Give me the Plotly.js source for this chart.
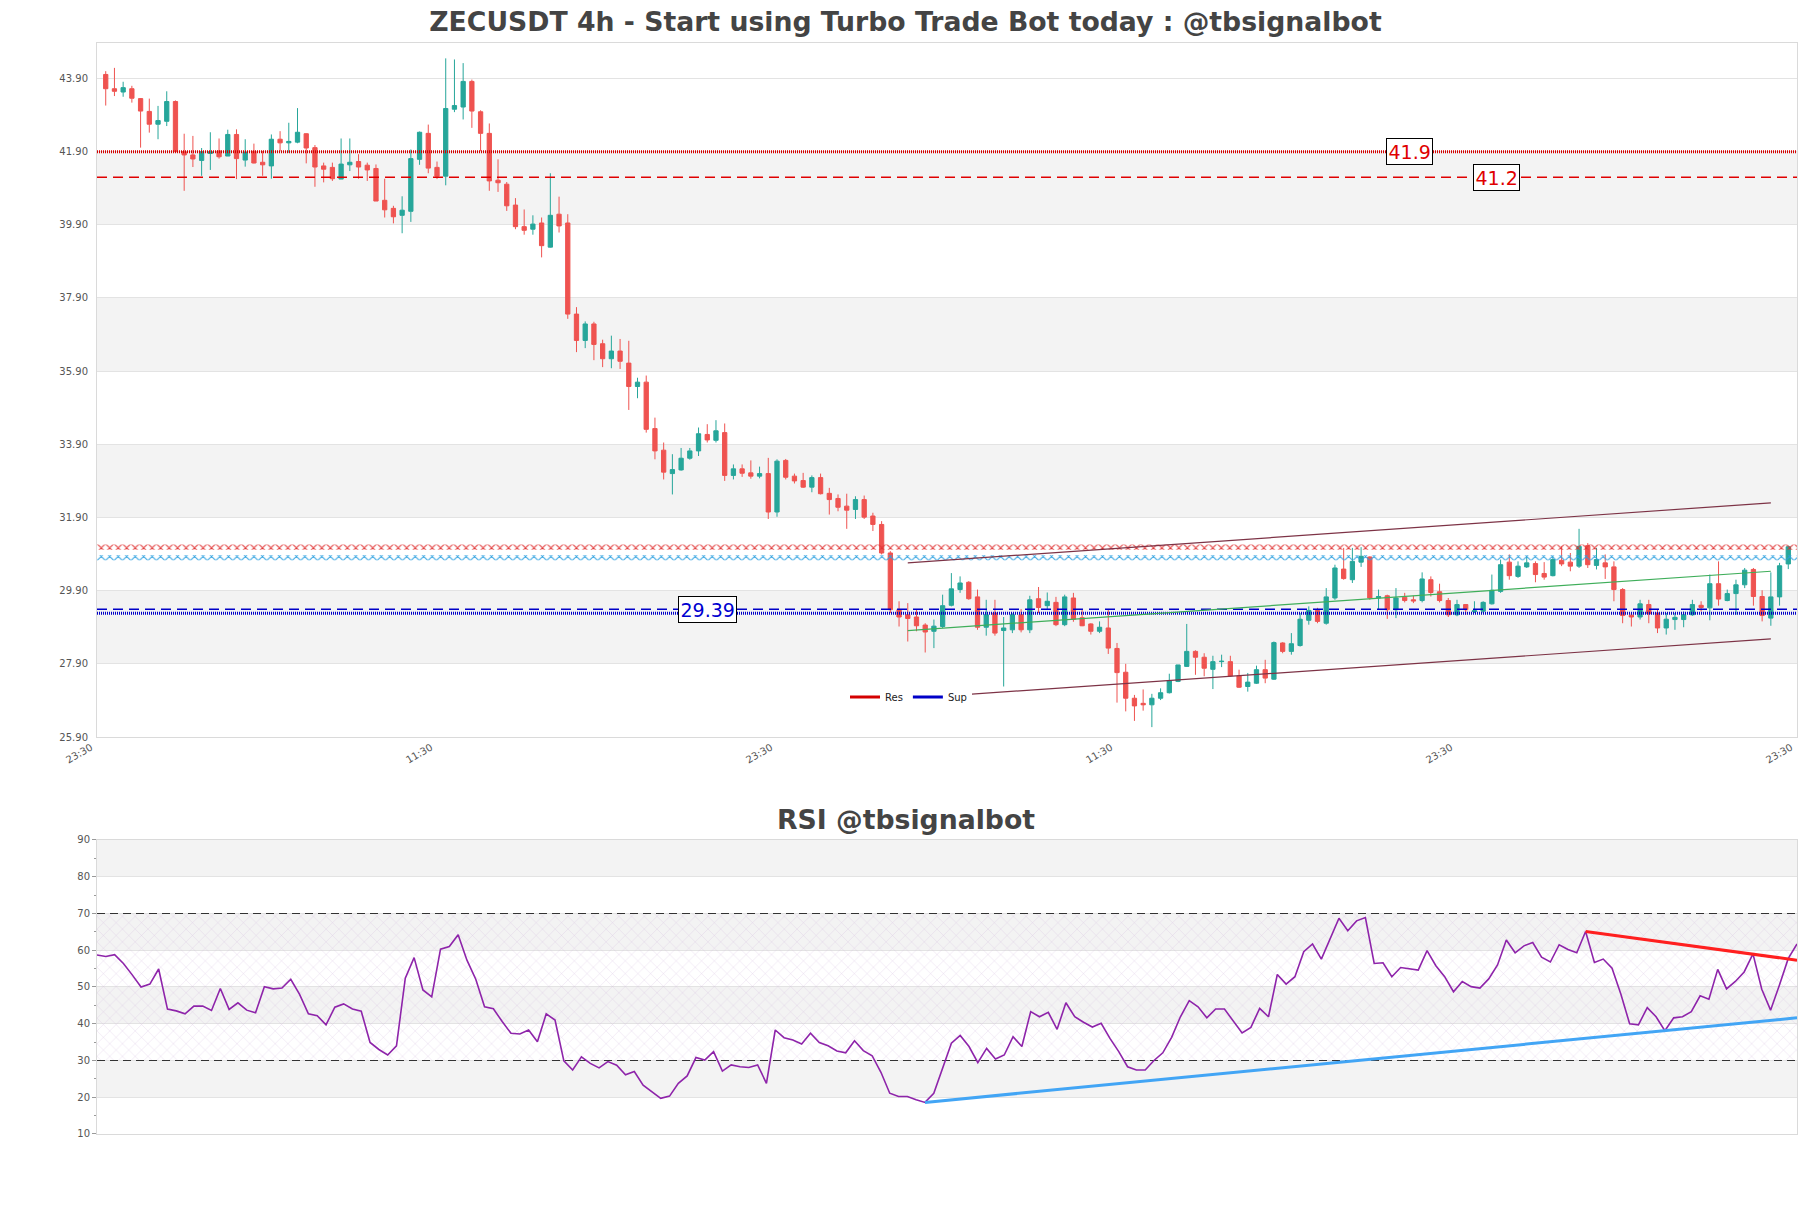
<!DOCTYPE html>
<html>
<head>
<meta charset="utf-8">
<script src="https://cdn.plot.ly/plotly-3.0.1.min.js"></script>
<style>html,body{margin:0;padding:0;background:#fff;}#chart{width:1811px;height:1208px;}</style>
</head>
<body>
<div id="chart"></div>
<script>
// ---------------- data ----------------
const openP = [44.01,43.62,43.53,43.62,43.35,43.00,42.65,42.73,43.27,41.90,41.81,41.66,41.85,41.92,41.78,42.37,41.67,41.91,41.61,41.51,
42.24,42.14,42.16,42.39,42.01,41.51,41.47,41.15,41.54,41.63,41.53,41.44,40.57,40.35,40.16,40.27,41.69,42.40,41.47,41.23,
43.06,43.12,43.82,42.99,42.40,41.12,41.01,40.44,39.85,39.78,39.95,39.29,40.19,39.95,37.46,36.74,37.19,36.65,36.24,36.45,
36.12,35.48,35.60,34.33,33.74,33.10,33.20,33.52,33.72,34.17,34.01,34.22,33.05,33.23,33.12,33.03,33.10,32.05,33.46,33.03,
32.91,32.73,32.99,32.56,32.42,32.21,32.12,32.39,31.94,31.71,30.93,29.38,29.24,29.18,28.96,28.79,28.92,29.50,29.93,30.13,
29.73,28.90,29.29,28.81,28.83,29.24,28.83,29.68,29.49,29.58,28.97,29.70,29.16,28.99,28.79,28.88,28.32,27.67,26.96,26.82,
26.78,26.96,27.11,27.42,27.83,28.24,28.08,27.75,27.96,27.96,27.57,27.28,27.37,27.74,27.48,28.47,28.24,28.40,29.09,29.36,
29.01,29.70,30.49,30.20,30.68,30.82,29.70,29.76,29.38,29.72,29.65,29.63,30.20,29.87,29.63,29.24,29.52,29.33,29.34,29.54,
29.88,30.68,30.29,30.55,30.64,30.37,30.31,30.73,30.68,30.57,31.13,30.59,30.66,30.55,29.93,29.23,29.18,29.52,29.29,28.88,
29.11,29.11,29.24,29.50,29.43,30.09,29.63,29.82,30.06,30.48,29.74,29.15,29.73,30.63];
const highP = [44.10,44.19,43.81,43.70,43.36,43.35,43.15,43.55,43.30,42.39,42.33,42.00,42.43,42.26,42.50,42.51,42.24,42.12,41.92,42.37,
42.46,42.69,43.09,42.40,42.08,41.60,41.60,42.26,42.26,41.83,41.60,41.55,41.16,40.42,40.68,41.96,42.45,42.64,41.63,44.45,
44.42,44.32,43.87,43.03,42.67,41.69,41.07,40.63,40.32,40.16,40.10,41.31,40.67,40.19,37.65,37.26,37.25,36.76,36.87,36.78,
36.73,35.72,35.78,34.63,33.95,33.63,33.80,33.80,34.36,34.45,34.56,34.47,33.35,33.35,33.46,33.29,33.53,33.49,33.50,33.10,
33.12,33.05,33.10,32.71,32.53,32.55,32.48,32.50,32.03,31.80,30.98,29.61,29.56,29.38,29.01,29.11,29.79,30.38,30.29,30.16,
29.93,29.65,29.65,29.18,29.28,29.40,29.76,30.00,29.85,29.73,29.79,29.84,29.38,29.01,29.06,29.40,28.47,27.90,27.05,27.20,
27.08,27.23,27.63,27.87,28.99,28.27,28.19,28.12,28.15,28.12,27.74,27.65,27.85,28.01,28.51,28.49,28.74,29.29,29.47,29.43,
29.97,30.61,31.07,31.07,31.09,30.84,29.93,29.79,29.97,29.84,29.76,30.40,30.29,30.09,29.70,29.65,29.52,29.61,29.61,30.34,
30.75,30.89,30.70,30.84,30.70,30.68,30.84,31.11,30.93,31.59,31.20,31.07,30.89,30.70,29.97,29.29,29.65,29.65,29.40,29.29,
29.29,29.33,29.65,29.61,30.34,30.70,29.93,30.20,30.52,30.52,29.91,30.40,30.66,31.13];
const lowP = [43.16,43.42,43.40,43.24,42.01,42.42,42.24,42.60,41.90,40.83,41.48,41.24,41.40,41.71,41.78,41.15,41.49,41.58,41.24,41.16,
41.92,41.87,42.13,41.58,40.94,41.06,41.10,41.15,41.37,41.16,41.10,40.55,40.10,39.94,39.67,39.98,41.54,41.31,41.15,40.98,
42.98,42.78,42.55,41.92,40.83,40.80,40.28,39.78,39.63,39.63,39.01,39.28,39.69,37.33,36.42,36.53,36.20,36.01,35.98,35.96,
34.84,35.16,34.22,33.49,32.94,32.53,33.18,33.48,33.58,33.95,33.95,32.90,32.94,33.01,32.96,32.97,31.86,31.92,32.94,32.83,
32.71,32.59,32.53,31.98,32.07,31.59,31.86,31.86,31.53,30.89,29.29,28.92,28.51,28.79,28.21,28.33,28.88,29.47,29.84,29.65,
28.83,28.67,28.67,27.28,28.74,28.76,28.74,29.29,29.38,28.93,28.93,29.05,28.93,28.70,28.74,28.17,26.84,26.60,26.34,26.62,
26.17,26.91,27.09,27.40,27.82,27.60,27.56,27.21,27.81,27.55,27.24,27.14,27.35,27.37,27.46,28.19,28.15,28.37,28.97,29.01,
28.97,29.65,30.20,30.11,30.55,29.65,29.38,29.13,29.15,29.58,29.56,29.58,29.74,29.58,29.18,29.20,29.24,29.29,29.29,29.52,
29.84,30.20,30.25,30.52,30.13,30.20,30.29,30.57,30.43,30.52,30.52,30.48,30.22,29.61,29.01,28.92,29.11,29.01,28.74,28.70,
28.83,28.90,29.21,29.33,29.09,29.49,29.61,29.24,29.97,29.49,29.06,28.94,29.49,30.49];
const closeP = [43.62,43.55,43.65,43.36,43.01,42.65,42.75,43.27,41.90,41.81,41.70,41.90,41.90,41.76,42.37,41.71,41.89,41.59,41.54,42.24,
42.14,42.18,42.43,42.00,41.48,41.42,41.16,41.56,41.61,41.48,41.40,40.55,40.31,40.12,40.30,41.71,42.43,41.45,41.23,43.08,
43.16,43.82,43.01,42.40,41.10,41.05,40.42,39.85,39.75,39.92,39.33,40.16,39.87,37.46,36.74,37.19,36.63,36.24,36.45,36.17,
35.48,35.60,34.31,33.72,33.14,33.21,33.52,33.72,34.19,34.02,34.27,33.05,33.23,33.11,33.03,33.10,32.05,33.44,33.00,32.90,
32.73,32.99,32.55,32.39,32.18,32.10,32.39,31.91,31.71,30.93,29.38,29.18,29.14,28.94,28.77,28.93,29.49,29.95,30.11,29.68,
28.90,29.24,28.74,28.88,29.24,28.83,29.65,29.44,29.61,28.97,29.73,29.12,28.94,28.79,28.90,28.33,27.66,26.96,26.75,26.78,
26.96,27.11,27.43,27.87,28.24,28.08,27.78,27.96,27.97,27.57,27.26,27.40,27.74,27.51,28.48,28.24,28.45,29.12,29.36,29.06,
29.73,30.52,30.23,30.70,30.84,29.70,29.74,29.38,29.70,29.63,29.62,30.22,29.85,29.63,29.24,29.52,29.38,29.35,29.58,29.91,
30.61,30.31,30.57,30.66,30.34,30.27,30.75,30.63,30.57,31.11,30.61,30.75,30.55,29.93,29.22,29.18,29.54,29.27,28.88,29.12,
29.17,29.24,29.52,29.44,30.09,29.67,29.82,30.06,30.46,29.74,29.22,29.73,30.58,31.10];
const rsi = [58.7,58.3,58.8,56.4,53.3,50.0,50.8,54.9,44.0,43.5,42.7,44.8,44.8,43.6,49.6,43.9,45.7,43.7,43.0,50.1,
49.5,49.7,52.1,48.0,42.7,42.2,39.7,44.5,45.4,44.0,43.4,34.9,33.0,31.5,34.0,52.4,58.0,49.2,47.3,60.3,
61.0,64.2,57.3,52.1,44.6,44.1,40.6,37.4,37.2,38.3,35.1,42.7,41.0,29.9,27.4,31.0,29.2,28.0,29.7,28.7,
26.1,27.0,23.3,21.5,19.7,20.3,23.8,25.8,30.8,30.1,32.4,27.1,28.8,28.3,28.1,28.8,23.8,38.3,36.2,35.6,
34.5,37.4,34.9,34.0,32.6,32.1,35.4,32.7,31.3,26.8,21.1,20.2,20.2,19.3,18.6,21.1,27.9,34.7,36.8,33.8,
29.4,33.3,30.4,31.5,36.5,33.8,43.3,41.9,43.1,38.5,45.7,41.9,40.4,39.1,40.1,36.0,32.4,28.3,27.4,27.4,
30.0,32.1,36.3,41.9,46.3,44.6,41.6,44.0,44.0,40.7,37.5,39.0,44.2,41.9,53.4,50.8,52.8,59.6,61.7,57.6,
63.2,68.7,65.3,68.0,68.9,56.4,56.6,52.8,55.3,55.0,54.6,59.9,55.8,52.8,48.7,51.5,50.1,49.7,52.2,56.0,
62.8,59.3,61.2,62.1,58.1,56.8,61.5,60.2,59.3,65.1,56.7,57.6,55.1,48.1,40.0,39.7,44.4,41.9,38.1,41.6,
41.9,43.3,47.6,46.7,54.8,49.5,51.5,54.1,59.0,49.4,43.7,50.5,57.7,61.7];

const xTickVals = [-1, 38, 77, 116, 155, 194];
const xTickText = ["23:30","11:30","23:30","11:30","23:30","23:30"];
const yTickVals = [25.9,27.9,29.9,31.9,33.9,35.9,37.9,39.9,41.9,43.9];
const yTickText = ["25.90","27.90","29.90","31.90","33.90","35.90","37.90","39.90","41.90","43.90"];

const resStrong = 41.9;   // dotted resistance
const resWeak = 41.2;     // dashed resistance
const supWeak = 29.39;    // dashed support
const supStrong = 29.28;  // dotted support
const resZone = [31.02, 31.16];
const supZone = [30.73, 30.87];

const chanX = [92, 191];
const chanUpper = [30.66, 32.30];
const chanMid = [28.81, 30.43];
const chanLower = [26.95, 28.58];

const rsiUpX = [94, 193];
const rsiUpY = [18.6, 41.6];
const rsiDownX = [169, 193];
const rsiDownY = [65.1, 57.3];

// ---------------- build ----------------
const N = closeP.length;
const idx = Array.from({length: N}, (_, i) => i);
const X0 = -1, X1 = N;
const font = 'DejaVu Sans';

const traces = [];

// res / sup hatched zones
function zone(range, col) {
  return {x: [X0, X1, X1, X0, X0], y: [range[0], range[0], range[1], range[1], range[0]],
    mode: 'lines', line: {width: 0}, fill: 'toself', fillcolor: 'rgba(0,0,0,0)',
    fillpattern: {shape: 'x', fgcolor: col, bgcolor: 'rgba(0,0,0,0)', size: 6, solidity: 0.3},
    showlegend: false, hoverinfo: 'skip', xaxis: 'x', yaxis: 'y'};
}
traces.push(zone(resZone, '#e03030'));
traces.push(zone(supZone, '#2a9fe0'));

function hline(v, col, dash, w) {
  return {x: [X0, X1], y: [v, v], mode: 'lines', line: {color: col, width: w, dash: dash},
    showlegend: false, hoverinfo: 'skip', xaxis: 'x', yaxis: 'y'};
}
traces.push(hline(resStrong, '#d40000', '1px,1px', 3));
traces.push(hline(resWeak, '#e00000', '10px,6px', 1.5));
traces.push(hline(supWeak, '#0000c8', '10px,6px', 1.5));
traces.push(hline(supStrong, '#0000c8', '1px,1px', 3));

// channel
traces.push({x: chanX, y: chanUpper, mode: 'lines', line: {color: '#7d3346', width: 1.2}, showlegend: false, xaxis: 'x', yaxis: 'y'});
traces.push({x: chanX, y: chanLower, mode: 'lines', line: {color: '#7d3346', width: 1.2}, showlegend: false, xaxis: 'x', yaxis: 'y'});
traces.push({x: chanX, y: chanMid, mode: 'lines', line: {color: '#3fae5a', width: 1.2}, showlegend: false, xaxis: 'x', yaxis: 'y'});

// candles
traces.push({type: 'candlestick', x: idx, open: openP, high: highP, low: lowP, close: closeP,
  increasing: {line: {color: '#26a69a', width: 1}, fillcolor: '#26a69a'},
  decreasing: {line: {color: '#ef5350', width: 1}, fillcolor: '#ef5350'},
  whiskerwidth: 0, showlegend: false, hoverinfo: 'skip', xaxis: 'x', yaxis: 'y'});

// legend entries
traces.push({x: [null], y: [null], mode: 'lines', name: 'Res', line: {color: '#d40000', width: 3}, xaxis: 'x', yaxis: 'y'});
traces.push({x: [null], y: [null], mode: 'lines', name: 'Sup', line: {color: '#0000c8', width: 3}, xaxis: 'x', yaxis: 'y'});

// RSI hatch 30-70
traces.push({x: [0, N - 1, N - 1, 0, 0], y: [30, 30, 70, 70, 30], mode: 'lines', line: {width: 0},
  fill: 'toself', fillcolor: 'rgba(0,0,0,0)',
  fillpattern: {shape: 'x', fgcolor: 'rgba(200,170,215,0.6)', bgcolor: 'rgba(0,0,0,0)', size: 9, solidity: 0.08},
  showlegend: false, hoverinfo: 'skip', xaxis: 'x2', yaxis: 'y2'});
[30, 70].forEach(v => traces.push({x: [0, N - 1], y: [v, v], mode: 'lines',
  line: {color: '#333', width: 1.2, dash: '8px,5px'}, showlegend: false, xaxis: 'x2', yaxis: 'y2'}));
traces.push({x: idx, y: rsi, mode: 'lines', line: {color: '#8e24aa', width: 1.6}, showlegend: false, xaxis: 'x2', yaxis: 'y2'});
traces.push({x: rsiUpX, y: rsiUpY, mode: 'lines', line: {color: '#42a5f5', width: 3}, showlegend: false, xaxis: 'x2', yaxis: 'y2'});
traces.push({x: rsiDownX, y: rsiDownY, mode: 'lines', line: {color: '#ff1f1f', width: 3}, showlegend: false, xaxis: 'x2', yaxis: 'y2'});

// background bands
const shapes = [];
for (let k = 1; k + 1 < yTickVals.length; k += 2) {
  shapes.push({type: 'rect', xref: 'x domain', yref: 'y', x0: 0, x1: 1, y0: yTickVals[k], y1: yTickVals[k + 1],
    fillcolor: '#f3f3f3', line: {width: 0}, layer: 'below'});
}
[[20, 30], [40, 50], [60, 70], [80, 90]].forEach(b => shapes.push({type: 'rect', xref: 'x2 domain', yref: 'y2',
  x0: 0, x1: 1, y0: b[0], y1: b[1], fillcolor: '#f3f3f3', line: {width: 0}, layer: 'below'}));

function lvlLabel(x, y, txt, col) {
  return {x: x, y: y, xref: 'x', yref: 'y', text: txt, showarrow: false,
    font: {family: font, size: 19, color: col}, bgcolor: '#fff', bordercolor: '#000', borderwidth: 1, borderpad: 1.5};
}

const layout = {
  width: 1811, height: 1208,
  margin: {l: 97, r: 14, t: 43, b: 74},
  paper_bgcolor: '#fff', plot_bgcolor: '#fff',
  font: {family: font, color: '#555', size: 10},
  title: {text: 'ZECUSDT 4h - Start using Turbo Trade Bot today : @tbsignalbot',
    font: {family: font, size: 26.7, color: '#444', weight: 'bold'},
    x: 0.5, xref: 'container', y: 1 - 22 / 1208, yref: 'container', yanchor: 'middle'},
  showlegend: true,
  legend: {orientation: 'h', x: 0.44, xanchor: 'left', y: 0.4005, yanchor: 'middle',
    bgcolor: '#fff', font: {family: font, size: 10, color: '#222'}, itemwidth: 30, tracegroupgap: 0},
  xaxis: {domain: [0, 1], range: [X0, X1], anchor: 'y', tickmode: 'array', tickvals: xTickVals, ticktext: xTickText,
    tickangle: -30, tickfont: {family: font, size: 10, color: '#555'}, showgrid: false, zeroline: false,
    showline: true, mirror: true, linecolor: '#dadada', linewidth: 1, ticks: '', ticklabelshift: -6,
    rangeslider: {visible: false}},
  yaxis: {domain: [0.36389, 1], range: [25.9, 44.87], tickmode: 'array', tickvals: yTickVals, ticktext: yTickText,
    tickfont: {family: font, size: 10, color: '#555'}, gridcolor: '#e3e3e3', gridwidth: 1, zeroline: false,
    showline: true, mirror: true, linecolor: '#dadada', linewidth: 1, ticks: '', ticklabelstandoff: 6},
  xaxis2: {domain: [0, 1], range: [0, N - 1], anchor: 'y2', showticklabels: false, showgrid: false, zeroline: false,
    showline: true, mirror: true, linecolor: '#dadada', linewidth: 1, ticks: ''},
  yaxis2: {domain: [0, 0.26948], range: [10, 90], dtick: 10, tick0: 10, tickfont: {family: font, size: 10, color: '#555'},
    gridcolor: '#e3e3e3', gridwidth: 1, zeroline: false, showline: true, mirror: true, linecolor: '#dadada', linewidth: 1,
    ticks: 'outside', ticklen: 4, tickcolor: '#999',
    minor: {dtick: 5, ticks: 'outside', ticklen: 2, tickcolor: '#999', showgrid: false}},
  shapes: shapes,
  annotations: [
    lvlLabel(149.5, resStrong, '41.9', '#e00000'),
    lvlLabel(159.5, resWeak, '41.2', '#e00000'),
    lvlLabel(69, supWeak, '29.39', '#0000d0'),
    {xref: 'paper', yref: 'paper', x: 0.4759, y: 0.2887, xanchor: 'center', yanchor: 'middle', showarrow: false,
      text: 'RSI @tbsignalbot', font: {family: font, size: 26.7, color: '#444', weight: 'bold'}}
  ]
};

Plotly.newPlot('chart', traces, layout, {staticPlot: true, displayModeBar: false});
</script>
</body>
</html>
